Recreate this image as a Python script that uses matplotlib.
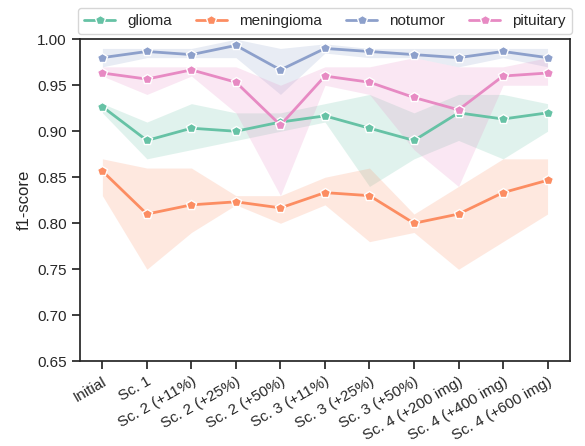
import matplotlib
matplotlib.use("Agg")
import matplotlib.pyplot as plt
import seaborn as sns

# scenarios on the x axis
scenarios = ["Initial", "Sc. 1", "Sc. 2 (+11%)", "Sc. 2 (+25%)", "Sc. 2 (+50%)",
             "Sc. 3 (+11%)", "Sc. 3 (+25%)", "Sc. 3 (+50%)",
             "Sc. 4 (+200 img)", "Sc. 4 (+400 img)", "Sc. 4 (+600 img)"]
classes = ["glioma", "meningioma", "notumor", "pituitary"]

# mean f1-score per class
glioma_mean = [0.9267, 0.89, 0.9033, 0.90, 0.91, 0.9167, 0.9033, 0.89, 0.92, 0.9133, 0.92]
meningioma_mean = [0.8567, 0.81, 0.82, 0.8233, 0.8167, 0.8333, 0.83, 0.80, 0.81, 0.8333, 0.8467]
notumor_mean = [0.98, 0.9867, 0.9833, 0.9933, 0.9667, 0.99, 0.9867, 0.9833, 0.98, 0.9867, 0.98]
pituitary_mean = [0.9633, 0.9567, 0.9667, 0.9533, 0.9067, 0.96, 0.9533, 0.9367, 0.9233, 0.96, 0.9633]

# min / max over runs (shaded band)
glioma_lo = [0.92, 0.87, 0.88, 0.89, 0.90, 0.91, 0.84, 0.87, 0.89, 0.87, 0.90]
glioma_hi = [0.93, 0.91, 0.93, 0.92, 0.92, 0.93, 0.94, 0.92, 0.94, 0.94, 0.93]
meningioma_lo = [0.83, 0.75, 0.79, 0.82, 0.80, 0.82, 0.78, 0.79, 0.75, 0.78, 0.81]
meningioma_hi = [0.87, 0.86, 0.86, 0.83, 0.83, 0.85, 0.86, 0.81, 0.84, 0.87, 0.87]
notumor_lo = [0.97, 0.98, 0.98, 0.98, 0.94, 0.985, 0.98, 0.98, 0.97, 0.98, 0.97]
notumor_hi = [0.99, 0.99, 0.99, 1.00, 0.99, 0.995, 0.99, 0.99, 0.99, 0.99, 0.99]
pituitary_lo = [0.96, 0.94, 0.96, 0.92, 0.83, 0.95, 0.94, 0.88, 0.84, 0.95, 0.95]
pituitary_hi = [0.97, 0.97, 0.97, 0.97, 0.95, 0.97, 0.97, 0.98, 0.97, 0.97, 0.98]

means = [glioma_mean, meningioma_mean, notumor_mean, pituitary_mean]
lows = [glioma_lo, meningioma_lo, notumor_lo, pituitary_lo]
highs = [glioma_hi, meningioma_hi, notumor_hi, pituitary_hi]

sns.set_theme(style="ticks")
plt.rcParams['font.family'] = ['Liberation Sans', 'DejaVu Sans']
colors = sns.color_palette("Set2", 4)

fig, ax = plt.subplots(figsize=(5.85, 4.46), dpi=100)
fig.subplots_adjust(left=0.137, right=0.974, top=0.912, bottom=0.19)

x = list(range(len(scenarios)))
for name, m, lo, hi, c in zip(classes, means, lows, highs, colors):
    ax.fill_between(x, lo, hi, color=c, alpha=0.2, linewidth=0)
    ax.plot(x, m, color=c, linewidth=2, marker='p', markersize=7,
            markeredgecolor='white', markeredgewidth=1, label=name)

ax.set_ylim(0.65, 1.0)
ax.set_yticks([0.65, 0.70, 0.75, 0.80, 0.85, 0.90, 0.95, 1.00])
ax.set_xticks(x)
ax.set_xticklabels(scenarios, rotation=30, ha='right', rotation_mode='anchor')
ax.set_ylabel("f1-score")
ax.tick_params(labelsize=11)

ax.legend(loc='lower center', bbox_to_anchor=(0.5, 1.015), ncol=4,
          fontsize=11, columnspacing=1.6, handlelength=2.0, borderaxespad=0)

fig.savefig("out.png", dpi=100)
